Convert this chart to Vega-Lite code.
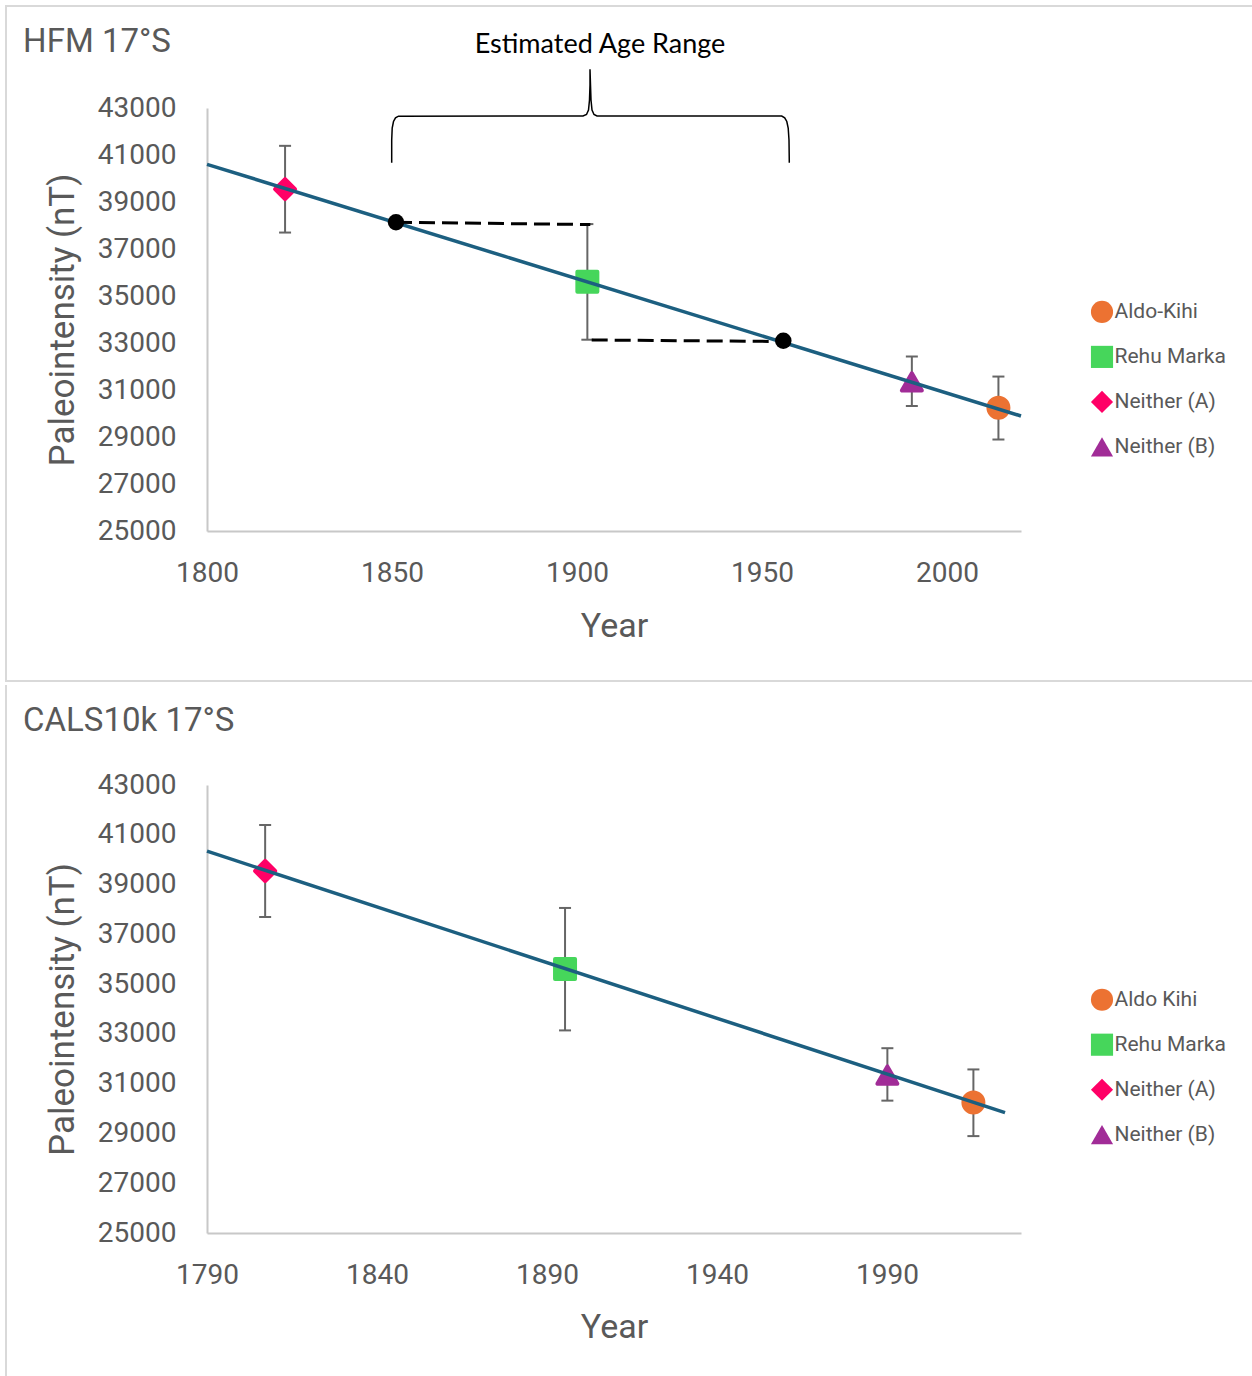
{
  "$schema": "https://vega.github.io/schema/vega-lite/v6.json",
  "padding": {"left": 4, "top": 5, "right": 0, "bottom": 0},
  "autosize": {"type": "pad"},
  "background": "white",
  "config": {
    "view": {"stroke": null},
    "axis": {"domainColor": "#C8C8C8", "domainWidth": 2, "ticks": false, "grid": false, "labelFlush": false, "labelColor": "#595959", "labelFont": "Roboto", "labelFontSize": 28, "titleColor": "#595959", "titleFont": "Roboto", "titleFontSize": 34, "titleFontWeight": "normal"},
    "axisY": {"titleFontSize": 35},
    "legend": {"labelFont": "Roboto", "labelFontSize": 21, "labelColor": "#595959"}
  },
  "datasets": {
    "top_pts": [
      {"site": "Neither (A)", "year": 1821.1, "F": 39545, "lo": 37700, "hi": 41390},
      {"site": "Rehu Marka", "year": 1902.8, "F": 35605, "lo": 33140, "hi": 38060},
      {"site": "Neither (B)", "year": 1990.5, "F": 31345, "lo": 30318, "hi": 32425},
      {"site": "Aldo-Kihi", "year": 2013.9, "F": 30240, "lo": 28893, "hi": 31572}
    ],
    "bot_pts": [
      {"site": "Neither (A)", "year": 1807.1, "F": 39545, "lo": 37700, "hi": 41390},
      {"site": "Rehu Marka", "year": 1895.3, "F": 35605, "lo": 33140, "hi": 38060},
      {"site": "Neither (B)", "year": 1990.1, "F": 31345, "lo": 30318, "hi": 32425},
      {"site": "Aldo Kihi", "year": 2015.4, "F": 30240, "lo": 28893, "hi": 31572}
    ],
    "top_trend": [{"year": 1800, "F": 40604}, {"year": 2020, "F": 29894}],
    "bot_trend": [{"year": 1790, "F": 40340}, {"year": 2024.7, "F": 29834}],
    "top_dash": [
      {"seg": 1, "year": 1851.08, "F": 38136}, {"seg": 1, "year": 1903.6, "F": 38040},
      {"seg": 2, "year": 1903.97, "F": 33128}, {"seg": 2, "year": 1955.76, "F": 33064}
    ],
    "top_dots": [{"year": 1851.08, "F": 38136}, {"year": 1955.76, "F": 33098}],
    "brace": [
      {"i": 1, "year": 1849.919, "F": 40672.3},
      {"i": 2, "year": 1849.919, "F": 41638.3},
      {"i": 3, "year": 1850.054, "F": 42148.9},
      {"i": 4, "year": 1850.405, "F": 42425.5},
      {"i": 5, "year": 1850.946, "F": 42583.0},
      {"i": 6, "year": 1851.757, "F": 42651.1},
      {"i": 7, "year": 1901.622, "F": 42659.6},
      {"i": 8, "year": 1902.568, "F": 42723.4},
      {"i": 9, "year": 1903.108, "F": 42914.9},
      {"i": 10, "year": 1903.378, "F": 43340.4},
      {"i": 11, "year": 1903.514, "F": 43978.7},
      {"i": 12, "year": 1903.514, "F": 44646.8},
      {"i": 13, "year": 1903.649, "F": 43978.7},
      {"i": 14, "year": 1903.784, "F": 43340.4},
      {"i": 15, "year": 1904.054, "F": 42914.9},
      {"i": 16, "year": 1904.595, "F": 42723.4},
      {"i": 17, "year": 1905.405, "F": 42659.6},
      {"i": 18, "year": 1955.324, "F": 42659.6},
      {"i": 19, "year": 1956.135, "F": 42583.0},
      {"i": 20, "year": 1956.703, "F": 42425.5},
      {"i": 21, "year": 1957.081, "F": 42148.9},
      {"i": 22, "year": 1957.297, "F": 41638.3},
      {"i": 23, "year": 1957.378, "F": 40672.3}
    ],
    "top_title": [{"label": "HFM 17°S", "year": 1750.3, "F": 45383}],
    "top_note": [{"label": "Estimated Age Range", "year": 1906.22, "F": 45340}],
    "top_frame": [{"year": 1745.676, "year2": 2085.135, "F": 47340.4, "F2": 18617}],
    "bot_title": [{"label": "CALS10k 17°S", "year": 1735.9, "F": 45170}],
    "bot_frame": [{"year": 1730.88, "F": 47017.9, "F2": 18209.6}]
  },
  "vconcat": [
    {
      "width": 814,
      "height": 423,
      "layer": [
        {
          "data": {"name": "top_frame"},
          "mark": {"type": "rect", "fill": null, "stroke": "#D9D9D9", "strokeWidth": 2},
          "encoding": {
            "x": {"field": "year", "type": "quantitative"},
            "x2": {"field": "year2"},
            "y": {"field": "F", "type": "quantitative"},
            "y2": {"field": "F2"}
          }
        },
        {
          "data": {"name": "top_pts"},
          "mark": {"type": "rule", "color": "#666666", "strokeWidth": 2},
          "encoding": {
            "x": {"field": "year", "type": "quantitative"},
            "y": {"field": "lo", "type": "quantitative"},
            "y2": {"field": "hi"}
          }
        },
        {
          "data": {"name": "top_pts"},
          "mark": {"type": "tick", "orient": "horizontal", "size": 12, "thickness": 2, "color": "#666666", "opacity": 1},
          "encoding": {
            "x": {"field": "year", "type": "quantitative"},
            "y": {"field": "lo", "type": "quantitative"}
          }
        },
        {
          "data": {"name": "top_pts"},
          "mark": {"type": "tick", "orient": "horizontal", "size": 12, "thickness": 2, "color": "#666666", "opacity": 1},
          "encoding": {
            "x": {"field": "year", "type": "quantitative"},
            "y": {"field": "hi", "type": "quantitative"}
          }
        },
        {
          "data": {"name": "top_pts"},
          "mark": {"type": "point", "filled": true, "size": 400, "strokeWidth": 4, "strokeJoin": "round", "opacity": 1},
          "encoding": {
            "x": {"field": "year", "type": "quantitative", "title": "Year",
                  "scale": {"domain": [1800, 2020], "nice": false, "zero": false},
                  "axis": {"values": [1800, 1850, 1900, 1950, 2000], "format": "d", "labelPadding": 28, "titlePadding": 22}},
            "y": {"field": "F", "type": "quantitative", "title": "Paleointensity  (nT)",
                  "scale": {"domain": [25000, 43000], "nice": false, "zero": false},
                  "axis": {"values": [25000, 27000, 29000, 31000, 33000, 35000, 37000, 39000, 41000, 43000], "format": "d", "labelPadding": 31, "titlePadding": 17}},
            "color": {"field": "site", "type": "nominal",
                      "scale": {"domain": ["Aldo-Kihi", "Rehu Marka", "Neither (A)", "Neither (B)"], "range": ["#EC7232", "#46D65B", "#FF0066", "#A12C97"]},
                      "legend": {"orient": "none", "legendX": 883.5, "legendY": 192.4, "title": null, "symbolSize": 490, "symbolStrokeWidth": 0, "rowPadding": 22, "labelOffset": 1, "padding": 0}},
            "shape": {"field": "site", "type": "nominal",
                      "scale": {"domain": ["Aldo-Kihi", "Rehu Marka", "Neither (A)", "Neither (B)"], "range": ["circle", "square", "diamond", "triangle-up"]},
                      "legend": {"orient": "none", "legendX": 883.5, "legendY": 192.4, "title": null, "symbolSize": 490, "symbolStrokeWidth": 0, "rowPadding": 22, "labelOffset": 1, "padding": 0}},
            "stroke": {"field": "site", "type": "nominal",
                      "scale": {"domain": ["Aldo-Kihi", "Rehu Marka", "Neither (A)", "Neither (B)"], "range": ["#EC7232", "#46D65B", "#FF0066", "#A12C97"]},
                      "legend": null}
          }
        },
        {
          "data": {"name": "top_trend"},
          "mark": {"type": "line", "color": "#1C5F80", "strokeWidth": 3.5},
          "encoding": {
            "x": {"field": "year", "type": "quantitative"},
            "y": {"field": "F", "type": "quantitative"}
          }
        },
        {
          "data": {"name": "top_dash"},
          "mark": {"type": "line", "color": "#000000", "strokeWidth": 3, "strokeDash": [16, 7]},
          "encoding": {
            "x": {"field": "year", "type": "quantitative"},
            "y": {"field": "F", "type": "quantitative"},
            "detail": {"field": "seg", "type": "nominal"}
          }
        },
        {
          "data": {"name": "top_dots"},
          "mark": {"type": "point", "filled": true, "color": "#000000", "size": 270, "opacity": 1},
          "encoding": {
            "x": {"field": "year", "type": "quantitative"},
            "y": {"field": "F", "type": "quantitative"}
          }
        },
        {
          "data": {"name": "brace"},
          "mark": {"type": "line", "color": "#000000", "strokeWidth": 1.5},
          "encoding": {
            "x": {"field": "year", "type": "quantitative"},
            "y": {"field": "F", "type": "quantitative"},
            "order": {"field": "i", "type": "quantitative"}
          }
        },
        {
          "data": {"name": "top_note"},
          "mark": {"type": "text", "align": "center", "baseline": "alphabetic", "font": "Lato", "fontSize": 27, "color": "#000000"},
          "encoding": {
            "x": {"field": "year", "type": "quantitative"},
            "y": {"field": "F", "type": "quantitative"},
            "text": {"field": "label"}
          }
        },
        {
          "data": {"name": "top_title"},
          "mark": {"type": "text", "align": "left", "baseline": "alphabetic", "font": "Roboto", "fontSize": 33, "color": "#595959"},
          "encoding": {
            "x": {"field": "year", "type": "quantitative"},
            "y": {"field": "F", "type": "quantitative"},
            "text": {"field": "label"}
          }
        }
      ]
    },
    {
      "width": 814,
      "height": 448,
      "layer": [
        {
          "data": {"name": "bot_frame"},
          "mark": {"type": "rule", "color": "#D9D9D9", "strokeWidth": 2},
          "encoding": {
            "x": {"field": "year", "type": "quantitative"},
            "y": {"field": "F", "type": "quantitative"},
            "y2": {"field": "F2"}
          }
        },
        {
          "data": {"name": "bot_pts"},
          "mark": {"type": "rule", "color": "#666666", "strokeWidth": 2},
          "encoding": {
            "x": {"field": "year", "type": "quantitative"},
            "y": {"field": "lo", "type": "quantitative"},
            "y2": {"field": "hi"}
          }
        },
        {
          "data": {"name": "bot_pts"},
          "mark": {"type": "tick", "orient": "horizontal", "size": 12, "thickness": 2, "color": "#666666", "opacity": 1},
          "encoding": {
            "x": {"field": "year", "type": "quantitative"},
            "y": {"field": "lo", "type": "quantitative"}
          }
        },
        {
          "data": {"name": "bot_pts"},
          "mark": {"type": "tick", "orient": "horizontal", "size": 12, "thickness": 2, "color": "#666666", "opacity": 1},
          "encoding": {
            "x": {"field": "year", "type": "quantitative"},
            "y": {"field": "hi", "type": "quantitative"}
          }
        },
        {
          "data": {"name": "bot_pts"},
          "mark": {"type": "point", "filled": true, "size": 400, "strokeWidth": 4, "strokeJoin": "round", "opacity": 1},
          "encoding": {
            "x": {"field": "year", "type": "quantitative", "title": "Year",
                  "scale": {"domain": [1790, 2029.4], "nice": false, "zero": false},
                  "axis": {"values": [1790, 1840, 1890, 1940, 1990], "format": "d", "labelPadding": 28, "titlePadding": 21}},
            "y": {"field": "F", "type": "quantitative", "title": "Paleointensity (nT)",
                  "scale": {"domain": [25000, 43000], "nice": false, "zero": false},
                  "axis": {"values": [25000, 27000, 29000, 31000, 33000, 35000, 37000, 39000, 41000, 43000], "format": "d", "labelPadding": 31, "titlePadding": 17}},
            "color": {"field": "site", "type": "nominal",
                      "scale": {"domain": ["Aldo Kihi", "Rehu Marka", "Neither (A)", "Neither (B)"], "range": ["#EC7232", "#46D65B", "#FF0066", "#A12C97"]},
                      "legend": {"orient": "none", "legendX": 883.5, "legendY": 203.2, "title": null, "symbolSize": 490, "symbolStrokeWidth": 0, "rowPadding": 22, "labelOffset": 1, "padding": 0}},
            "shape": {"field": "site", "type": "nominal",
                      "scale": {"domain": ["Aldo Kihi", "Rehu Marka", "Neither (A)", "Neither (B)"], "range": ["circle", "square", "diamond", "triangle-up"]},
                      "legend": {"orient": "none", "legendX": 883.5, "legendY": 203.2, "title": null, "symbolSize": 490, "symbolStrokeWidth": 0, "rowPadding": 22, "labelOffset": 1, "padding": 0}},
            "stroke": {"field": "site", "type": "nominal",
                      "scale": {"domain": ["Aldo Kihi", "Rehu Marka", "Neither (A)", "Neither (B)"], "range": ["#EC7232", "#46D65B", "#FF0066", "#A12C97"]},
                      "legend": null}
          }
        },
        {
          "data": {"name": "bot_trend"},
          "mark": {"type": "line", "color": "#1C5F80", "strokeWidth": 3.5},
          "encoding": {
            "x": {"field": "year", "type": "quantitative"},
            "y": {"field": "F", "type": "quantitative"}
          }
        },
        {
          "data": {"name": "bot_title"},
          "mark": {"type": "text", "align": "left", "baseline": "alphabetic", "font": "Roboto", "fontSize": 33, "color": "#595959"},
          "encoding": {
            "x": {"field": "year", "type": "quantitative"},
            "y": {"field": "F", "type": "quantitative"},
            "text": {"field": "label"}
          }
        }
      ]
    }
  ],
  "spacing": 0,
  "resolve": {"scale": {"x": "independent", "y": "independent", "color": "independent", "shape": "independent", "stroke": "independent"}}
}
